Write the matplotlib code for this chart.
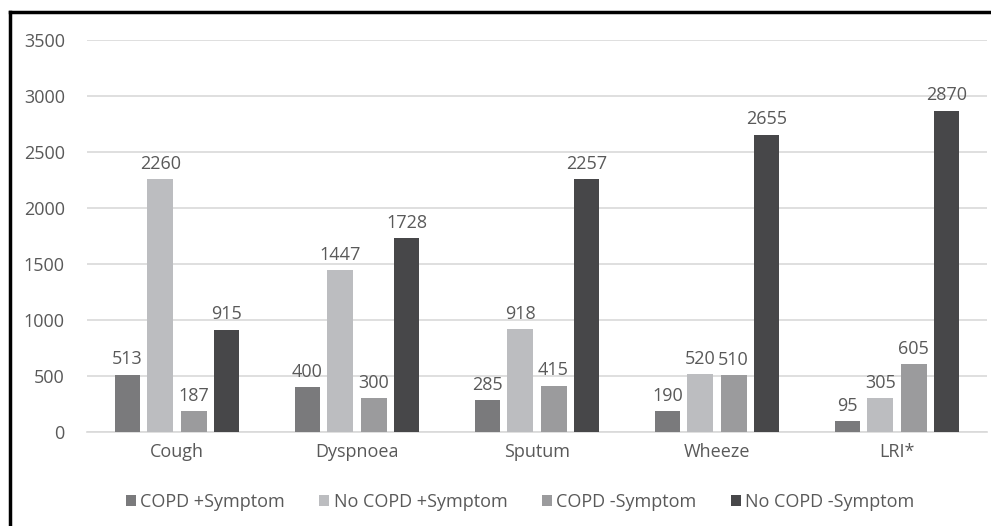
import matplotlib
matplotlib.use("Agg")
import matplotlib.pyplot as plt
from matplotlib.lines import Line2D
import numpy as np

categories = ["Cough", "Dyspnoea", "Sputum", "Wheeze", "LRI*"]
series_names = ["COPD +Symptom", "No COPD +Symptom", "COPD -Symptom", "No COPD -Symptom"]
copd_pos = [513, 400, 285, 190, 95]
nocopd_pos = [2260, 1447, 918, 520, 305]
copd_neg = [187, 300, 415, 510, 605]
nocopd_neg = [915, 1728, 2257, 2655, 2870]
colors = ["#7a7a7c", "#bcbdc0", "#9b9b9d", "#474749"]
yticks = [0, 500, 1000, 1500, 2000, 2500, 3000, 3500]

plt.rcParams['font.family'] = ['Open Sans', 'DejaVu Sans']
txt = "#595959"
fs = 13

fig = plt.figure(figsize=(9.91, 5.26), dpi=100)
ax = fig.add_axes([87/991, 1-432/526, 900/991, 392/526])

series = [copd_pos, nocopd_pos, copd_neg, nocopd_neg]
x = np.arange(len(categories))
w = 0.144
offs = [-0.275, -0.092, 0.092, 0.275]
for vals, off, c, name in zip(series, offs, colors, series_names):
    bars = ax.bar(x + off, vals, width=w, color=c, label=name, zorder=3)
    for b, v in zip(bars, vals):
        ax.text(b.get_x() + b.get_width()/2, v + 55, str(v), ha='center', va='bottom',
                fontsize=fs, color=txt)

ax.set_xlim(-0.5, len(categories) - 0.5)
ax.set_ylim(0, 3500)
ax.set_yticks(yticks)
ax.set_yticklabels([str(t) for t in yticks], fontsize=fs, color=txt)
ax.set_xticks(x)
ax.set_xticklabels(categories, fontsize=fs, color=txt)
ax.tick_params(axis='both', length=0)
ax.tick_params(axis='y', pad=16)
ax.tick_params(axis='x', pad=8)
ax.grid(axis='y', color='#d9d9d9', linewidth=1.2, zorder=0)
for s in ['top', 'right', 'left']:
    ax.spines[s].set_visible(False)
ax.spines['bottom'].set_color('#d9d9d9')
ax.spines['bottom'].set_linewidth(1.2)

leg = fig.legend(loc='center', bbox_to_anchor=(520/991, 1-502/526), ncol=4, frameon=False,
                 fontsize=fs, handlelength=0.55, handleheight=0.55, handletextpad=0.25,
                 columnspacing=1.9)
for t in leg.get_texts():
    t.set_color(txt)

# border lines (left and top)
fig.add_artist(Line2D([10/991, 10/991], [0, 1-12/526], color='black', linewidth=2.5, transform=fig.transFigure))
fig.add_artist(Line2D([10/991, 1], [1-12/526, 1-12/526], color='black', linewidth=2.5, transform=fig.transFigure))

fig.savefig("out.png", dpi=100)
